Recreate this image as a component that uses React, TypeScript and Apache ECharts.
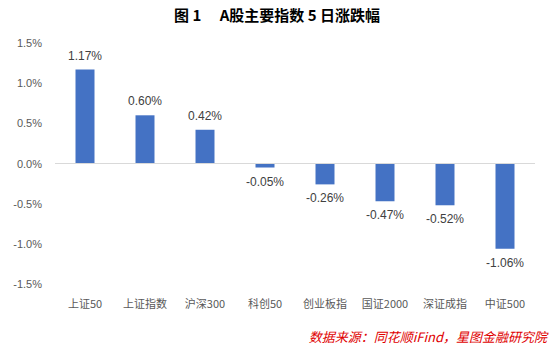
import React, { useEffect, useRef } from "react";
import * as echarts from "echarts";

const categories = ["上证50", "上证指数", "沪深300", "科创50", "创业板指", "国证2000", "深证成指", "中证500"];
const values = [1.17, 0.6, 0.42, -0.05, -0.26, -0.47, -0.52, -1.06];
const yTicks = { min: -1.5, max: 1.5, interval: 0.5 };

export default function App() {
  const ref = useRef<HTMLDivElement>(null);
  useEffect(() => {
    const chart = echarts.init(ref.current!, null, { renderer: "svg" });
    chart.setOption({
      animation: false,
      backgroundColor: "#ffffff",
      title: {
        text: "图 1\u3000\u00a0A股主要指数 5 日涨跌幅",
        left: "center",
        top: 2,
        textStyle: { fontFamily: "Noto Sans CJK SC", fontWeight: "bold", fontSize: 15, color: "#000" },
      },
      graphic: [
        {
          type: "text",
          right: 7,
          top: 330,
          style: {
            text: "数据来源：同花顺iFind，星图金融研究院",
            fill: "#e00000",
            font: "italic 13px 'Noto Sans CJK SC'",
          },
        },
      ],
      grid: { left: 55, right: 19, top: 43, bottom: 70 },
      xAxis: {
        type: "category",
        data: categories,
        axisLine: { show: false },
        axisTick: { show: false },
        axisLabel: { interval: 0, margin: 13, fontSize: 11, color: "#595959", fontFamily: "Noto Sans CJK SC" },
      },
      yAxis: {
        type: "value",
        min: yTicks.min,
        max: yTicks.max,
        interval: yTicks.interval,
        splitLine: { show: false },
        axisLine: { show: false },
        axisTick: { show: false },
        axisLabel: {
          fontSize: 11,
          color: "#595959",
          margin: 13,
          formatter: (v: number) => v.toFixed(1) + "%",
        },
      },
      series: [
        {
          type: "bar",
          data: values.map((v) => ({
            value: v,
            label: { position: v >= 0 ? "top" : "bottom" },
          })),
          barWidth: 19,
          itemStyle: { color: "#4472C4" },
          label: {
            show: true,
            fontSize: 12,
            color: "#404040",
            distance: 8,
            formatter: (p: any) => p.value.toFixed(2) + "%",
          },
          markLine: {
            silent: true,
            symbol: "none",
            label: { show: false },
            lineStyle: { color: "#d9d9d9", type: "solid", width: 1 },
            data: [{ yAxis: 0 }],
          },
        },
      ],
    });
    return () => chart.dispose();
  }, []);
  return <div ref={ref} style={{ width: 554, height: 354, position: "absolute", left: 0, top: 0 }} />;
}
